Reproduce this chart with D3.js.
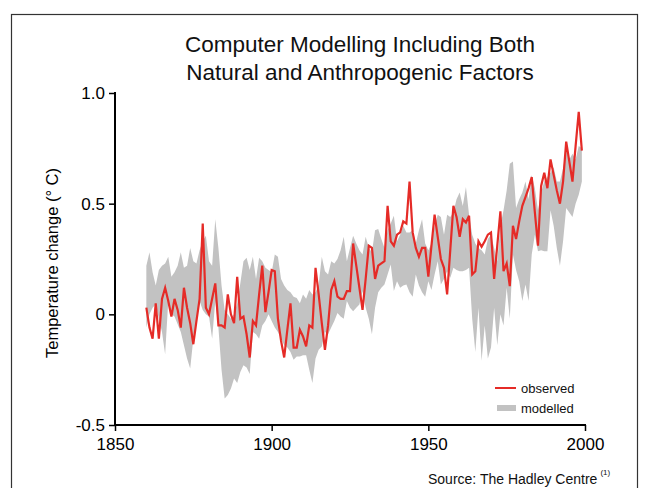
<!DOCTYPE html>
<html><head><meta charset="utf-8">
<script src="https://cdn.jsdelivr.net/npm/d3@7"></script>
<style>
html,body{margin:0;padding:0;background:#fff;}
svg{display:block;font-family:"Liberation Sans",Arial,sans-serif;}
</style></head>
<body>
<script>
const startYear = 1860;
const observed = [
 0.03,-0.06,-0.11,0.05,-0.11,0.07,0.12,0.06,-0.01,0.07,
 0.02,-0.06,0.12,0.03,-0.04,-0.135,-0.03,0.07,0.41,0.03,
 0.0,0.07,0.14,-0.05,-0.05,-0.06,0.09,0.0,-0.04,0.17,
 -0.02,-0.01,-0.09,-0.195,-0.03,-0.05,0.09,0.22,0.01,0.1,
 0.2,0.195,-0.02,-0.12,-0.195,-0.07,0.05,-0.15,-0.15,-0.07,
 -0.1,-0.145,-0.05,-0.06,0.21,0.09,-0.04,-0.16,-0.05,0.11,
 0.15,0.08,0.07,0.07,0.105,0.105,0.32,0.22,0.12,0.02,
 0.16,0.31,0.30,0.16,0.22,0.23,0.24,0.49,0.33,0.31,
 0.36,0.37,0.42,0.41,0.60,0.37,0.30,0.26,0.30,0.30,
 0.17,0.31,0.45,0.35,0.25,0.21,0.09,0.29,0.49,0.44,
 0.35,0.43,0.415,0.445,0.18,0.195,0.33,0.305,0.33,0.36,
 0.37,0.16,0.31,0.465,0.195,0.23,0.127,0.40,0.34,0.42,
 0.49,0.53,0.57,0.62,0.46,0.31,0.58,0.64,0.57,0.70,
 0.63,0.56,0.50,0.60,0.78,0.69,0.60,0.76,0.915,0.74
];
const modelMax = [
 0.22,0.28,0.19,0.13,0.20,0.22,0.23,0.26,0.17,0.19,
 0.22,0.28,0.21,0.22,0.30,0.24,0.23,0.29,0.33,0.355,
 0.24,0.22,0.43,0.30,0.13,0.02,0.0,-0.02,0.0,0.05,
 0.14,0.24,0.256,0.2,0.26,0.16,0.256,0.24,0.21,0.20,
 0.19,0.27,0.26,0.16,0.13,0.11,0.10,0.08,0.074,0.05,
 0.09,0.07,0.11,0.09,0.10,0.135,0.26,0.195,0.18,0.24,
 0.23,0.25,0.29,0.35,0.24,0.30,0.355,0.32,0.29,0.27,
 0.35,0.30,0.28,0.38,0.385,0.34,0.30,0.38,0.41,0.445,
 0.33,0.36,0.40,0.37,0.37,0.38,0.32,0.38,0.43,0.32,
 0.29,0.32,0.40,0.45,0.44,0.36,0.45,0.44,0.46,0.52,
 0.55,0.49,0.575,0.45,0.36,0.32,0.30,0.29,0.27,0.34,
 0.36,0.30,0.24,0.40,0.47,0.56,0.68,0.69,0.48,0.52,
 0.55,0.60,0.52,0.63,0.57,0.47,0.55,0.60,0.62,0.64,
 0.665,0.60,0.60,0.66,0.74,0.70,0.726,0.70,0.76,0.75
];
const modelMin = [
 -0.06,0.0,0.03,0.045,-0.02,-0.08,-0.18,0.06,0.0,-0.01,
 -0.045,-0.08,-0.14,-0.2,-0.245,-0.11,-0.045,0.06,0.02,0.0,
 -0.01,-0.11,0.06,-0.06,-0.25,-0.38,-0.365,-0.335,-0.29,-0.31,
 -0.26,-0.23,-0.24,-0.27,-0.08,-0.09,-0.11,-0.05,-0.03,0.0,
 -0.03,-0.06,-0.08,-0.11,-0.14,-0.15,-0.17,-0.205,-0.19,-0.19,
 -0.185,-0.185,-0.25,-0.31,-0.2,-0.16,-0.145,-0.08,-0.09,-0.06,
 -0.03,0.006,-0.01,-0.02,0.06,0.03,0.014,0.03,0.044,0.105,
 0.03,-0.02,-0.09,0.03,0.10,0.12,0.135,0.18,0.225,0.105,
 0.15,0.12,0.13,0.135,0.10,0.08,0.18,0.13,0.10,0.08,
 0.15,0.11,0.18,0.24,0.135,0.16,0.195,0.165,0.21,0.20,
 0.195,0.195,0.20,0.21,-0.02,-0.17,0.03,-0.21,-0.05,-0.2,
 -0.15,0.03,-0.14,0.0,-0.05,0.12,-0.02,0.27,0.20,0.15,
 0.06,0.135,0.06,0.27,0.36,0.285,0.29,0.285,0.285,0.47,
 0.40,0.30,0.22,0.33,0.48,0.46,0.44,0.50,0.54,0.60
];
const xTicks = [1850, 1900, 1950, 2000];
const yTicks = [-0.5, 0, 0.5, 1.0];
const yTickLabels = ["-0.5", "0", "0.5", "1.0"];
const titleLines = ["Computer Modelling Including Both", "Natural and Anthropogenic Factors"];
const legendItems = ["observed", "modelled"];

const W = 649, H = 488;
const FONT = '"Liberation Sans",Arial,sans-serif';
const svg = d3.select("body").append("svg").attr("width", W).attr("height", H);

// frame
svg.append("rect").attr("x", 11.5).attr("y", 14.5).attr("width", 626).attr("height", 490)
  .attr("fill", "none").attr("stroke", "#333").attr("stroke-width", 1.2);

const x = d3.scaleLinear().domain([1850, 2000]).range([115, 585]);
const y = d3.scaleLinear().domain([-0.5, 1.0]).range([425, 93]);

const data = observed.map((v, i) => ({year: startYear + i, obs: v, lo: modelMin[i], hi: modelMax[i]}));

// model band
svg.append("path").datum(data)
  .attr("fill", "#c2c2c2")
  .attr("d", d3.area().x(d => x(d.year)).y0(d => y(d.lo)).y1(d => y(d.hi)));

// observed line
svg.append("path").datum(data)
  .attr("fill", "none").attr("stroke", "#e52b27").attr("stroke-width", 2.2)
  .attr("d", d3.line().x(d => x(d.year)).y(d => y(d.obs)));

// axes
const xAxis = svg.append("g").attr("transform", "translate(0,425)")
  .call(d3.axisBottom(x).tickValues(xTicks).tickFormat(d3.format("d")).tickSize(6).tickPadding(7));
const yAxis = svg.append("g").attr("transform", "translate(115,0)")
  .call(d3.axisLeft(y).tickValues(yTicks).tickFormat((d, i) => yTickLabels[i]).tickSize(6).tickPadding(4));
[xAxis, yAxis].forEach(g => {
  g.select(".domain").remove();
  g.selectAll(".tick line").attr("stroke", "#000").attr("stroke-width", 1.5);
  g.selectAll(".tick text").attr("fill", "#000").style("font-size", "17px").style("font-family", FONT);
});
svg.append("line").attr("x1", 114).attr("x2", 586).attr("y1", 425).attr("y2", 425)
  .attr("stroke", "#000").attr("stroke-width", 2);
svg.append("line").attr("x1", 115).attr("x2", 115).attr("y1", 92).attr("y2", 426)
  .attr("stroke", "#000").attr("stroke-width", 2);

// title
svg.append("g").selectAll("text").data(titleLines).join("text")
  .attr("x", 360).attr("y", (d, i) => 52 + i * 28)
  .attr("text-anchor", "middle").style("font-size", "22.5px").attr("fill", "#111")
  .text(d => d);

// y label
svg.append("text").attr("transform", "translate(58,263) rotate(-90)")
  .attr("text-anchor", "middle").style("font-size", "16.5px").attr("fill", "#000")
  .text("Temperature change (° C)");

// legend
const lg = svg.append("g");
lg.append("line").attr("x1", 495).attr("x2", 516).attr("y1", 388).attr("y2", 388)
  .attr("stroke", "#e52b27").attr("stroke-width", 2);
lg.append("rect").attr("x", 497).attr("y", 405).attr("width", 19).attr("height", 6).attr("fill", "#c2c2c2");
lg.selectAll("text").data(legendItems).join("text")
  .attr("x", 521).attr("y", (d, i) => 393 + i * 20)
  .style("font-size", "13px").attr("fill", "#111").text(d => d);

// source
const src = svg.append("text").attr("x", 428).attr("y", 484).style("font-size", "14px").attr("fill", "#111");
src.append("tspan").text("Source: The Hadley Centre");
src.append("tspan").attr("dx", 3).attr("dy", -9).style("font-size", "8px").text("(1)");
</script>
</body></html>
